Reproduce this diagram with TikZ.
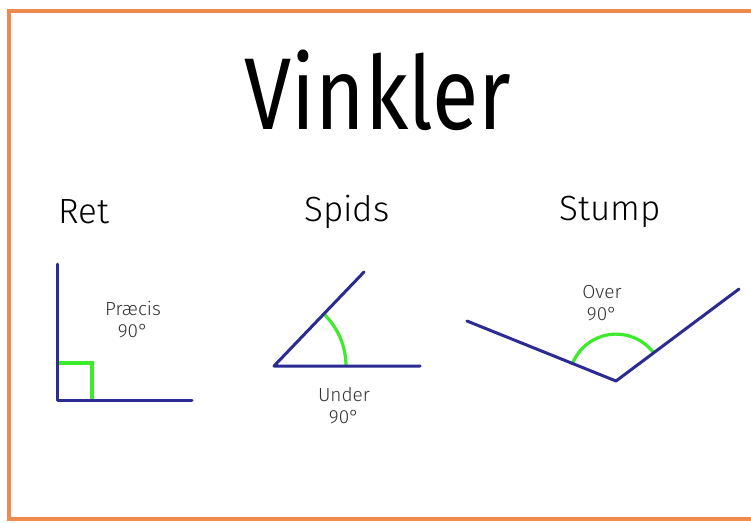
\documentclass[tikz,border=0pt]{standalone}
\usepackage{fontspec}
\setmainfont{Fira Sans}
\begin{document}
\begin{tikzpicture}[x=1pt,y=-1pt,
  ray/.style={draw=rayblue,line width=3pt,line cap=round,line join=round},
  anglemark/.style={draw=markgreen,line width=3.2pt},
  heading/.style={font=\fontsize{35}{40}\selectfont\fontspec{Fira Sans Light},text=black},
  note/.style={font=\fontsize{19}{22}\selectfont\fontspec{Fira Sans Light},text=black!80,align=center,inner sep=0pt}]
\definecolor{rayblue}{HTML}{2B2B94}
\definecolor{markgreen}{HTML}{3CEB2A}
\definecolor{frameorange}{HTML}{EE8A4E}
\useasboundingbox (0,0) rectangle (751,522);
\fill[white] (0,0) rectangle (751,522);
% frame
\draw[frameorange,line width=3.5pt] (760,11) -- (9,11) -- (9,519) -- (760,519);
% title
\node[xscale=0.83,font=\fontsize{102}{110}\selectfont] (title) at (378,90) {Vinkler};
% headings
\node[heading] (ret) at (84,212) {Ret};
\node[heading] (spids) at (347,212) {Spids};
\node[heading] (stump) at (610,212) {Stump};
% right angle
\coordinate (rv) at (57,400);
\coordinate (rt) at (57,264);
\coordinate (rr) at (192,400);
\draw[anglemark] (57,363) -- (92,363) -- (92,400);
\draw[ray] (rt) -- (rv) -- (rr);
\node[note] (retn) at (133,320) {Præcis\\90°};
% acute angle
\coordinate (av) at (274,366);
\coordinate (ah) at (420,366);
\coordinate (au) at (364,272);
\draw[anglemark] ([shift={(72,0)}]av) arc[start angle=0,end angle=-46,radius=72];
\draw[ray] (au) -- (av) -- (ah);
\node[note] (spidsn) at (344,406) {Under\\90°};
% obtuse angle
\coordinate (ov) at (616,381);
\coordinate (ol) at (467,321);
\coordinate (orr) at (739,289);
\draw[anglemark] ([shift={(-43.5,-17.5)}]ov) arc[start angle=-158,end angle=-37,radius=47];
\draw[ray] (ol) -- (ov) -- (orr);
\node[note] (stumpn) at (602,303) {Over\\90°};
\end{tikzpicture}
\end{document}
